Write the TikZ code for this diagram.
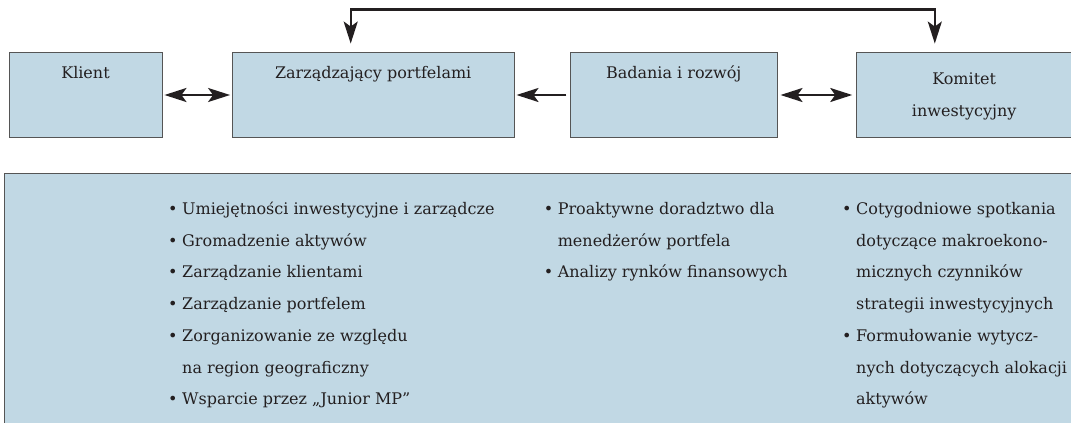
\documentclass[tikz,border=0pt]{standalone}
\usepackage{fontspec}
\setmainfont{DejaVu Serif}
\usepackage{xcolor}
\usetikzlibrary{arrows.meta,positioning,calc}

\definecolor{boxblue}{RGB}{193,216,228}
\definecolor{boxedge}{RGB}{85,85,85}
\definecolor{ink}{RGB}{35,31,32}
\newcommand{\pkt}{\makebox[14pt][l]{\textbullet}}
\newcommand{\dal}{\hspace*{14pt}}

\begin{document}
\begin{tikzpicture}[x=1pt,y=-1pt,
    >={Stealth[length=22pt,width=14pt,inset=5pt]},
    box/.style={draw=boxedge,fill=boxblue,line width=0.9pt,inner sep=0pt,minimum height=84.6pt},
    title/.style={text=ink,font=\fontsize{16}{31.7}\selectfont,inner sep=0pt,anchor=base},
    list/.style={title,align=left,anchor=base west},
    link/.style={draw=ink,line width=2.3pt}]
    \useasboundingbox (0,0) rectangle (1071,423);

    % Boxes
    \node[box,minimum width=153pt] (klient) at (85.5,95) {};
    \node[box,minimum width=282.3pt] (zp) at (373.2,95) {};
    \node[box,minimum width=207.3pt] (br) at (673.7,95) {};
    \node[box,minimum width=215pt] (kom) at (964.2,95) {};
    \node[box,anchor=north west,minimum width=1090pt,minimum height=260pt] (opis) at (4,173.3) {};

    % Titles
    \node[title] (klientT) at ([yshift=-26.3pt]klient.north) {Klient};
    \node[title] (zpT) at ([yshift=-26.3pt]zp.north) {Zarządzający portfelami};
    \node[title] (brT) at ([yshift=-26.3pt]br.north) {Badania i rozwój};
    \node[title] (komT) at ([yshift=-32.3pt]kom.north) {Komitet};
    \node[title] (komT2) at ([yshift=-64.6pt]kom.north) {inwestycyjny};

    % Connectors
    \draw[link,<->,shorten <=2pt,shorten >=1.5pt] (klient.east) -- (zp.west);
    \draw[link,->,shorten <=3.3pt,shorten >=1.7pt] (br.west) -- (zp.east);
    \draw[link,<->,shorten <=2.7pt,shorten >=4pt] (br.east) -- (kom.west);
    \draw[link,<->,shorten <=8.7pt,shorten >=8.7pt]
        ([xshift=-22.5pt]zp.north) -- ++(0,-42.7) -| ([xshift=-29.4pt]kom.north);

    % Bullet lists (placed at the baseline of the last line)
    \node[list] (lista1) at (168,404.7) {\pkt Umiejętności inwestycyjne i zarządcze\\
        \pkt Gromadzenie aktywów\\
        \pkt Zarządzanie klientami\\
        \pkt Zarządzanie portfelem\\
        \pkt Zorganizowanie ze względu\\
        \dal na region geograficzny\\
        \pkt Wsparcie przez „Junior MP”};
    \node[list] (lista2) at (543.6,277.9) {\pkt Proaktywne doradztwo dla\\
        \dal menedżerów portfela\\
        \pkt Analizy rynków finansowych};
    \node[list] (lista3) at (842,404.7) {\pkt Cotygodniowe spotkania\\
        \dal dotyczące makroekono-\\
        \dal micznych czynników\\
        \dal strategii inwestycyjnych\\
        \pkt Formułowanie wytycz-\\
        \dal nych dotyczących alokacji\\
        \dal aktywów};
\end{tikzpicture}
\end{document}
